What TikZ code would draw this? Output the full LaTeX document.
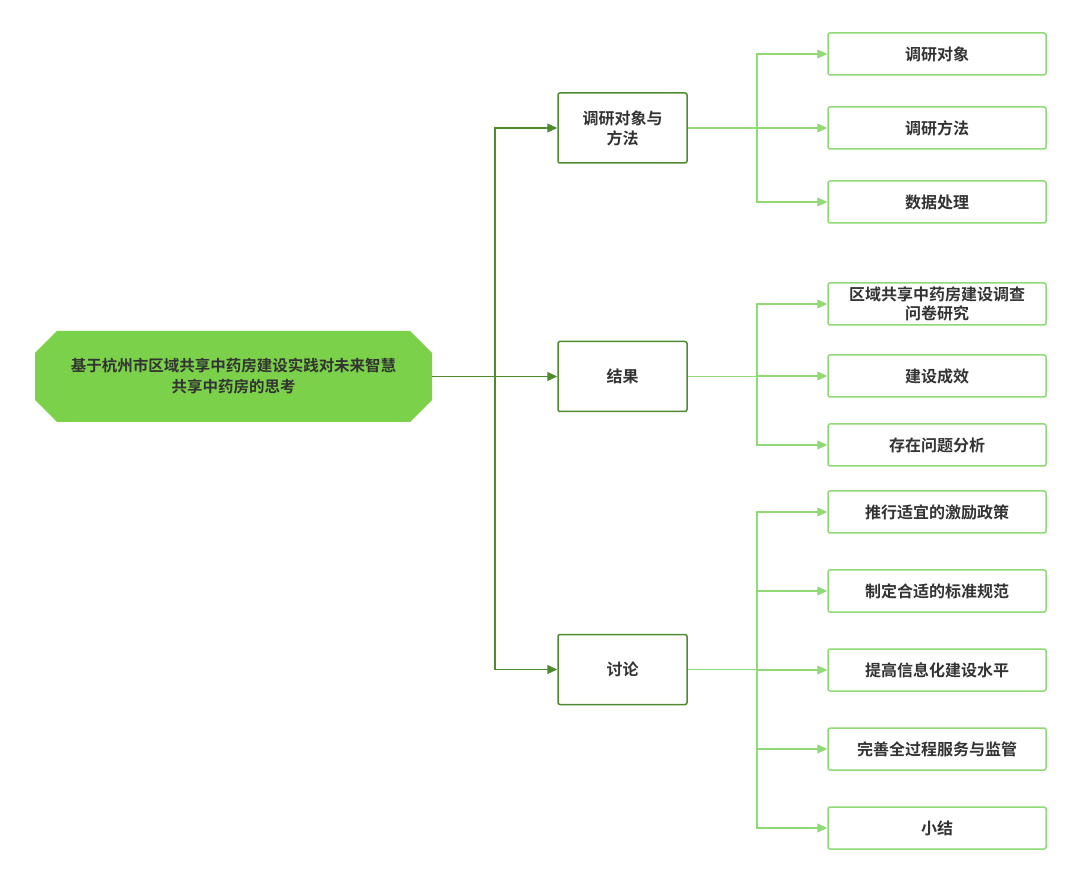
\documentclass[tikz,border=0pt]{standalone}
\usepackage{fontspec}
\setmainfont{Noto Sans CJK SC}[BoldFont={Noto Sans CJK SC Bold}]
\usetikzlibrary{arrows.meta}
\definecolor{rootg}{HTML}{7BD14A}
\definecolor{darkg}{HTML}{4E8A2E}
\definecolor{lightg}{HTML}{8FD977}
\definecolor{txt}{HTML}{333333}
\begin{document}
\begin{tikzpicture}[x=1pt,y=-1pt,
  mid/.style={draw=darkg,line width=1.5pt,rounded corners=2pt,minimum width=129pt,minimum height=70pt,align=center,font=\bfseries\fontsize{16}{20}\selectfont,text=txt},
  leaf/.style={draw=lightg,line width=1.5pt,rounded corners=2pt,minimum width=218pt,minimum height=42pt,align=center,font=\bfseries\fontsize{16}{19}\selectfont,text=txt},
  darr/.style={draw=darkg,line width=1.3pt,-{Triangle[length=10pt,width=9pt]}},
  larr/.style={draw=lightg,line width=1.3pt,-{Triangle[length=10pt,width=9pt]}}]
\useasboundingbox (0,0) rectangle (1080,882);
\fill[rootg] (57,331) -- (410,331) -- (432,353) -- (432,400) -- (410,422) -- (57,422) -- (35,400) -- (35,353) -- cycle;
\node[minimum width=397pt,minimum height=91pt,inner sep=0pt,align=center,font=\bfseries\fontsize{15.5}{21}\selectfont,text=txt] (root) at (233.5,376.5) {基于杭州市区域共享中药房建设实践对未来智慧\\共享中药房的思考};
\node[mid] (m1) at (622.5,128) {调研对象与\\方法};
\node[mid] (m2) at (622.5,376.5) {结果};
\node[mid] (m3) at (622.5,669.5) {讨论};
\coordinate (j) at (495,376.5);
\foreach \m in {m1,m2,m3} \draw[darr] (root.east) -- (j) |- (\m.west);
\foreach \n/\y/\t/\p in {a/54/调研对象/m1,b/128/调研方法/m1,c/202/数据处理/m1,
  d/304/区域共享中药房建设调查\\问卷研究/m2,e/376/建设成效/m2,f/445/存在问题分析/m2,
  g/512/推行适宜的激励政策/m3,h/591/制定合适的标准规范/m3,i/670/提高信息化建设水平/m3,
  k/749/完善全过程服务与监管/m3,l/828/小结/m3}{
  \node[leaf] (\n) at (937,\y) {\t};
  \draw[larr] (\p.east) -- (757,0 |- \p.east) |- (\n.west);
}
\end{tikzpicture}
\end{document}
